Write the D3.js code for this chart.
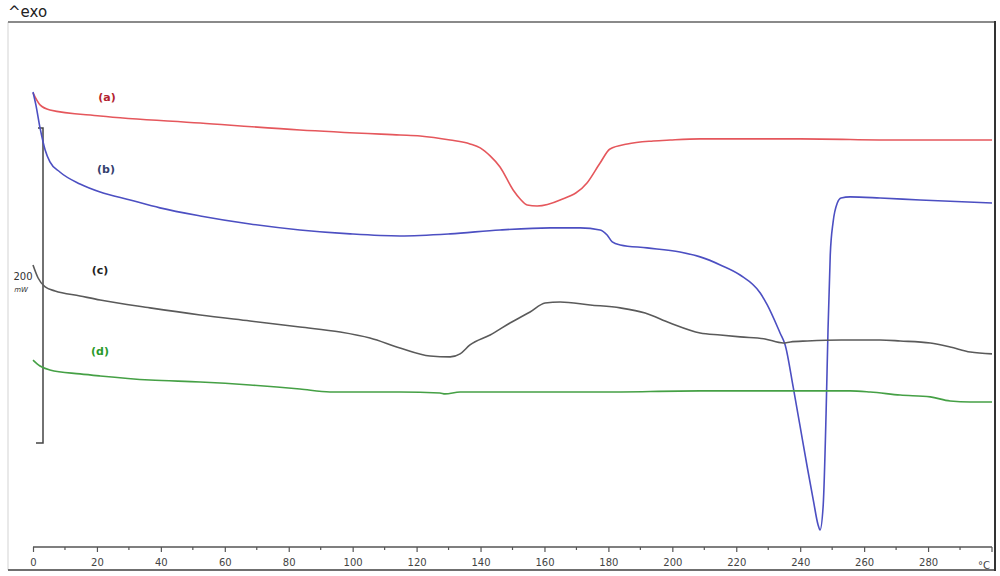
<!DOCTYPE html>
<html>
<head>
<meta charset="utf-8">
<script src="https://cdn.jsdelivr.net/npm/d3@7"></script>
<style>
  html, body { margin: 0; padding: 0; background: #fff; }
  svg { display: block; }
</style>
</head>
<body>
<svg id="chart" width="1000" height="576"></svg>
<script>
// Temperature (°C) and heat-flow (mW, arbitrary offset)
const curveA_T = [0, 2.2, 5.3, 21, 52.3, 83.5, 114.8, 121.1, 130.5, 136.7, 139.9, 143, 146.1, 150.2, 152.4, 154.6, 157.7, 164.9, 173.3, 177.4, 180.5, 185.9, 194, 199.3, 208.7, 240, 271.3, 300];
const curveA_Q = [288.3, 280.7, 277.5, 273.7, 269.2, 264.8, 261.6, 261.0, 258.4, 255.9, 253.4, 248.3, 241.3, 226.7, 221.0, 217.2, 216.5, 220.3, 231.1, 243.8, 252.7, 255.9, 257.8, 258.4, 259.1, 259.1, 258.4, 258.4];

const curveB_T = [0, 0.9, 2.2, 3.8, 5.3, 8.4, 14.7, 21, 30.4, 39.7, 52.3, 67.9, 83.5, 99.2, 114.8, 130.5, 146.1, 161.8, 171.2, 177.4, 179.6, 181.2, 183.7, 192.1, 202.4, 208.7, 215, 221.2, 227.5, 229.7, 233.7, 235.3, 237.8, 240, 242.2, 244.1, 245.6, 246.2, 247.2, 248.1, 248.7, 249.4, 250.3, 251.6, 252.8, 255.6, 265, 277.5, 300];
const curveB_Q = [288.9, 280.7, 266.1, 252.1, 244.5, 238.1, 230.5, 225.4, 220.3, 215.3, 210.2, 205.1, 201.3, 198.8, 197.5, 198.8, 201.3, 202.6, 202.6, 201.3, 198.1, 193.7, 191.8, 189.9, 187.3, 184.2, 179.1, 172.7, 161.3, 153.7, 135.9, 128.3, 101.6, 76.2, 50.8, 29.8, 14.0, 10.8, 26.7, 85.1, 137.8, 185.4, 206.4, 218.4, 221.6, 222.3, 221.6, 220.3, 218.4];

const curveC_T = [0, 1.6, 3.8, 6.9, 14.7, 21, 36.6, 52.3, 67.9, 83.5, 96.1, 105.4, 114.8, 124.2, 130.5, 133.6, 136.7, 143, 149.2, 155.5, 160.2, 164.9, 174.3, 183.7, 191.5, 199.3, 208.7, 215, 221.2, 229, 234.7, 236.9, 242.2, 252.8, 265, 271.3, 280.7, 286.9, 293.2, 300];
const curveC_Q = [179.1, 170.8, 165.1, 162.6, 159.4, 156.8, 151.8, 147.3, 143.5, 139.7, 136.5, 132.7, 126.4, 121.3, 120.7, 122.6, 128.3, 134.6, 142.2, 149.2, 154.9, 155.6, 153.7, 151.8, 148.6, 142.2, 135.9, 134.6, 133.4, 132.1, 129.5, 130.2, 130.8, 131.4, 131.4, 130.8, 129.5, 127.0, 123.8, 122.6];

const curveD_T = [0, 2.2, 5.3, 14.7, 21, 36.6, 52.3, 67.9, 83.5, 92.9, 114.8, 127.3, 128.9, 133.6, 146.1, 177.4, 208.7, 240, 255.6, 261.9, 271.3, 280.7, 286.9, 293.2, 300];
const curveD_Q = [118.7, 114.9, 112.4, 109.9, 108.6, 106.0, 104.8, 102.9, 100.3, 98.4, 98.4, 97.8, 97.2, 98.4, 98.4, 98.4, 99.1, 99.1, 99.1, 98.4, 96.5, 95.3, 92.7, 92.1, 92.1];

const curveLabels = ["(a)", "(b)", "(c)", "(d)"];
const xTickValues = [0, 20, 40, 60, 80, 100, 120, 140, 160, 180, 200, 220, 240, 260, 280];
const xMinorTicks = [10, 30, 50, 70, 90, 110, 130, 150, 170, 190, 210, 230, 250, 270, 290];
const xUnit = "°C";
const scaleBarBase = 66;   // mW
const scaleBarSize = 200;  // mW
const scaleBarLabel = ["200", "mW"];
const exoLabel = "^exo";

// ---- drawing ----
const svg = d3.select("#chart");
const x = d3.scaleLinear().domain([0, 300]).range([33, 992]);
const y = d3.scaleLinear().domain([0, 525 * 200 / 315]).range([547, 22]);

// frame
svg.append("line").attr("x1", 8).attr("x2", 8).attr("y1", 22).attr("y2", 570).attr("stroke", "#e2e2e2").attr("stroke-width", 1.5);
svg.append("line").attr("x1", 8).attr("x2", 996).attr("y1", 22).attr("y2", 22).attr("stroke", "#8a8a8a").attr("stroke-width", 2);
svg.append("line").attr("x1", 8).attr("x2", 996).attr("y1", 570).attr("y2", 570).attr("stroke", "#6f6f6f").attr("stroke-width", 2);
svg.append("line").attr("x1", 995).attr("x2", 995).attr("y1", 21).attr("y2", 571).attr("stroke", "#333").attr("stroke-width", 2);

svg.append("text").attr("x", 8).attr("y", 17).text(exoLabel)
  .attr("font-family", "DejaVu Sans, sans-serif").attr("font-size", 15).attr("fill", "#222");

// x axis
const axisG = svg.append("g").attr("transform", "translate(0,547)");
const ax = d3.axisBottom(x).tickValues(xTickValues).tickSize(5).tickPadding(7).tickFormat(d3.format("d"));
axisG.call(ax);
axisG.select(".domain").attr("stroke", "#555").attr("stroke-width", 1.6).attr("d", "M" + x(0) + ",0H" + x(300));
axisG.selectAll(".tick line").attr("stroke", "#555").attr("stroke-width", 1.2);
axisG.selectAll(".tick text").attr("font-family", "DejaVu Sans, sans-serif").attr("font-size", 10).attr("fill", "#444");
axisG.selectAll(".minor").data(xMinorTicks).enter().append("line")
  .attr("x1", d => x(d)).attr("x2", d => x(d)).attr("y1", 0).attr("y2", 3)
  .attr("stroke", "#555").attr("stroke-width", 1.2);
axisG.append("line").attr("x1", x(300)).attr("x2", x(300)).attr("y1", 0).attr("y2", 5).attr("stroke", "#555").attr("stroke-width", 1.2);
axisG.append("text").attr("x", x(300) - 8).attr("y", 22).attr("text-anchor", "middle")
  .attr("font-family", "DejaVu Sans, sans-serif").attr("font-size", 10).attr("fill", "#444").text(xUnit);

// scale bar
const sbTop = y(scaleBarBase + scaleBarSize), sbBot = y(scaleBarBase);
svg.append("path")
  .attr("d", `M38,${sbTop}H43V${sbBot}H36`)
  .attr("fill", "none").attr("stroke", "#444").attr("stroke-width", 1.5);
svg.append("text").attr("x", 23).attr("y", 280).attr("text-anchor", "middle").text(scaleBarLabel[0])
  .attr("font-family", "DejaVu Sans, sans-serif").attr("font-size", 10).attr("fill", "#333");
svg.append("text").attr("x", 21).attr("y", 292).attr("text-anchor", "middle").text(scaleBarLabel[1])
  .attr("font-family", "DejaVu Sans, sans-serif").attr("font-size", 7).attr("font-style", "italic").attr("fill", "#333");

// curves
const curves = [
  { T: curveA_T, Q: curveA_Q, color: "#e5575c", label: curveLabels[0], lc: "#b3232f", lx: 107, ly: 101 },
  { T: curveB_T, Q: curveB_Q, color: "#4c4fc2", label: curveLabels[1], lc: "#34406e", lx: 106, ly: 173 },
  { T: curveC_T, Q: curveC_Q, color: "#5a5a5a", label: curveLabels[2], lc: "#222", lx: 100, ly: 274 },
  { T: curveD_T, Q: curveD_Q, color: "#45a045", label: curveLabels[3], lc: "#2a9a2a", lx: 100, ly: 355 }
];
const line = d3.line().x(d => x(d[0])).y(d => y(d[1])).curve(d3.curveMonotoneX);
curves.forEach(c => {
  const pts = c.T.map((t, i) => [t, c.Q[i]]);
  svg.append("path").datum(pts).attr("d", line)
    .attr("fill", "none").attr("stroke", c.color).attr("stroke-width", 1.6).attr("stroke-linejoin", "round");
  svg.append("text").attr("x", c.lx).attr("y", c.ly).attr("text-anchor", "middle").text(c.label)
    .attr("font-family", "DejaVu Sans, sans-serif").attr("font-size", 11).attr("font-weight", "bold").attr("fill", c.lc);
});
</script>
</body>
</html>
